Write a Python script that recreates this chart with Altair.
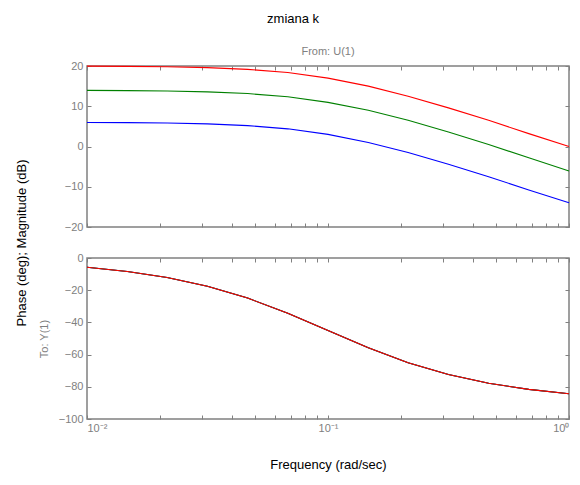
import altair as alt
import pandas as pd

# Frequencies (rad/sec) at which the curves are read
freq = [0.01, 0.0147, 0.0215, 0.0316, 0.0464, 0.0681, 0.1, 0.147, 0.215, 0.316, 0.464, 0.681, 1.0]

# Magnitude (dB) for three gains k
mag_blue = [5.98, 5.93, 5.83, 5.61, 5.19, 4.39, 3.01, 1.0, -1.5, -4.4, -7.5, -10.8, -14.0]
mag_green = [13.94, 13.89, 13.79, 13.57, 13.15, 12.35, 10.97, 9.0, 6.5, 3.6, 0.5, -2.8, -6.1]
mag_red = [19.96, 19.91, 19.81, 19.59, 19.17, 18.37, 16.99, 15.0, 12.5, 9.6, 6.5, 3.2, 0.0]

# Phase (deg) - identical for all gains
phase = [-5.7, -8.4, -12.1, -17.5, -24.9, -34.3, -45.0, -55.8, -65.1, -72.4, -77.8, -81.6, -84.3]

x_ticks = [0.01, 0.02, 0.03, 0.04, 0.05, 0.06, 0.07, 0.08, 0.09,
           0.1, 0.2, 0.3, 0.4, 0.5, 0.6, 0.7, 0.8, 0.9, 1.0]
mag_ticks = [-20, -10, 0, 10, 20]
phase_ticks = [-100, -80, -60, -40, -20, 0]

W, H = 482, 161
GRAY = "#808080"
TS = 4
FONT = "Liberation Sans"

label_expr = ("datum.value == 0.01 ? '10⁻²' : (datum.value == 0.1 ? '10⁻¹' : "
              "(datum.value == 1 ? '10⁰' : ''))")

xscale = alt.Scale(type="log", domain=[0.01, 1], nice=False)


def make_df(vals, series):
    return pd.DataFrame({"f": freq, "v": vals, "s": series})


def panel(series_list, ydomain, yticks, show_xlabels, ytitle_kwargs, xtitle_kwargs, title=None):
    yscale = alt.Scale(domain=ydomain, nice=False, zero=False)
    layers = []
    for i, (vals, color) in enumerate(series_list):
        df = make_df(vals, color)
        if i == 0:
            xax = alt.Axis(orient="bottom", values=x_ticks, offset=-TS, tickSize=TS, domain=False,
                           labels=show_xlabels, labelExpr=label_expr, labelFlush=True,
                           labelFlushOffset=0,
                           labelPadding=3, labelColor=GRAY, labelFontSize=11, labelFont=FONT,
                           tickColor=GRAY, grid=False, **xtitle_kwargs)
            yax = alt.Axis(orient="left", values=yticks, offset=-TS, tickSize=TS, domain=False,
                           labelPadding=4, labelColor=GRAY, labelFontSize=11, labelFont=FONT,
                           tickColor=GRAY, grid=False, **ytitle_kwargs)
        else:
            xax = None
            yax = None
        layers.append(
            alt.Chart(df).mark_line(color=color, strokeWidth=1.1).encode(
                x=alt.X("f:Q", scale=xscale, axis=xax),
                y=alt.Y("v:Q", scale=yscale, axis=yax),
            )
        )
    # invisible layer carrying the top and right tick axes
    df = make_df(series_list[-1][0], "ax")
    layers.append(
        alt.Chart(df).mark_line(opacity=0).encode(
            x=alt.X("f:Q", scale=xscale,
                    axis=alt.Axis(orient="top", values=x_ticks, offset=-TS, tickSize=TS, domain=False,
                                  labels=False, tickColor=GRAY, grid=False, title=None)),
            y=alt.Y("v:Q", scale=yscale,
                    axis=alt.Axis(orient="right", values=yticks, offset=-TS, tickSize=TS, domain=False,
                                  labels=False, tickColor=GRAY, grid=False, title=None)),
        )
    )
    ch = alt.layer(*layers).resolve_axis(x="independent", y="independent").properties(width=W, height=H)
    if title is not None:
        ch = ch.properties(title=title)
    return ch


top = panel(
    [(mag_blue, "#0000ff"), (mag_green, "#008000"), (mag_red, "#ff0000")],
    [-20, 20], mag_ticks, False,
    dict(title="Phase (deg); Magnitude (dB)", titleX=-70, titleY=H + 15.5, titleAngle=270,
         titleAlign="center", titleBaseline="middle", titleFontSize=13, titleFontWeight="normal",
         titleColor="#000000", titleFont=FONT),
    dict(title=None),
    title=alt.TitleParams("From: U(1)", fontSize=11, fontWeight="normal", color=GRAY,
                          font=FONT, offset=3),
)

bottom = panel(
    [(phase, "#0000ff"), (phase, "#008000"), (phase, "#ff0000")],
    [-100, 0], phase_ticks, True,
    dict(title="To: Y(1)", titleX=-47, titleY=H / 2, titleAngle=270,
         titleAlign="center", titleBaseline="middle", titleFontSize=11, titleFontWeight="normal",
         titleColor=GRAY, titleFont=FONT),
    dict(title="Frequency (rad/sec)", titleX=W / 2, titleY=49, titleAlign="center",
         titleBaseline="middle", titleFontSize=13, titleFontWeight="normal",
         titleColor="#000000", titleFont=FONT),
)

chart = alt.vconcat(top, bottom, spacing=31, bounds="flush").properties(
    title=alt.TitleParams("zmiana k", fontSize=13, fontWeight="normal", color="#000000",
                          font=FONT, offset=19, anchor="middle"),
    padding={"left": 6, "top": 5, "right": 0, "bottom": 0},
).configure_view(stroke=GRAY, strokeWidth=1.5)

chart.save("out.html", embed_options={"renderer": "svg", "actions": False})
